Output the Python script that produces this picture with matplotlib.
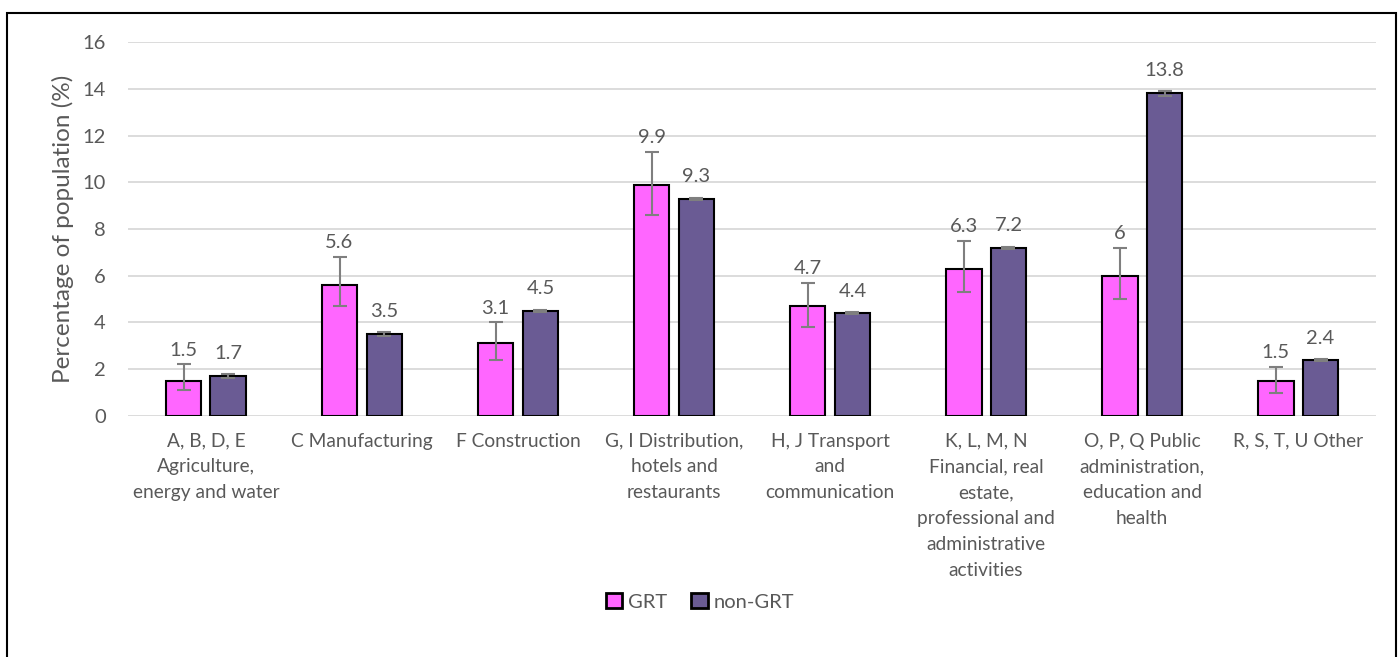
import matplotlib
matplotlib.use("Agg")
import matplotlib.pyplot as plt
import numpy as np
from matplotlib.patches import Rectangle

plt.rcParams["font.family"] = ["Lato", "DejaVu Sans"]

categorias = [
    "A, B, D, E\nAgriculture,\nenergy and water",
    "C Manufacturing",
    "F Construction",
    "G, I Distribution,\nhotels and\nrestaurants",
    "H, J Transport\nand\ncommunication",
    "K, L, M, N\nFinancial, real\nestate,\nprofessional and\nadministrative\nactivities",
    "O, P, Q Public\nadministration,\neducation and\nhealth",
    "R, S, T, U Other",
]
grt = [1.5, 5.6, 3.1, 9.9, 4.7, 6.3, 6.0, 1.5]
grt_erro_cima = [0.7, 1.2, 0.9, 1.4, 1.0, 1.2, 1.2, 0.6]
grt_erro_baixo = [0.4, 0.9, 0.7, 1.3, 0.9, 1.0, 1.0, 0.5]
nao_grt = [1.7, 3.5, 4.5, 9.3, 4.4, 7.2, 13.8, 2.4]
nao_grt_erro = [0.08, 0.07, 0.04, 0.04, 0.04, 0.04, 0.1, 0.03]
rotulos_grt = ["1.5", "5.6", "3.1", "9.9", "4.7", "6.3", "6", "1.5"]
rotulos_nao_grt = ["1.7", "3.5", "4.5", "9.3", "4.4", "7.2", "13.8", "2.4"]

COR_GRT = "#FF66FF"
COR_NAO_GRT = "#6A5B94"
COR_TEXTO = "#595959"
COR_GRADE = "#D9D9D9"
COR_ERRO = "#7F7F7F"

fig = plt.figure(figsize=(14, 6.57), dpi=100)
ax = fig.add_axes([0.0914, 0.367, 0.8915, 0.569])

x = np.arange(len(categorias))
largura = 0.23
desloc = 0.144

ax.bar(x - desloc, grt, largura, color=COR_GRT, edgecolor="black",
       linewidth=1.5, label="GRT", zorder=3)
ax.bar(x + desloc, nao_grt, largura, color=COR_NAO_GRT, edgecolor="black",
       linewidth=1.5, label="non-GRT", zorder=3)

ax.errorbar(x - desloc, grt, yerr=[grt_erro_baixo, grt_erro_cima], fmt="none",
            ecolor=COR_ERRO, elinewidth=1.5, capsize=5, capthick=1.5, zorder=4)
ax.errorbar(x + desloc, nao_grt, yerr=nao_grt_erro, fmt="none",
            ecolor=COR_ERRO, elinewidth=1.5, capsize=5, capthick=1.5, zorder=4)

for xi, v, e, r in zip(x, grt, grt_erro_cima, rotulos_grt):
    ax.annotate(r, (xi - desloc, v + e), xytext=(0, 4), textcoords="offset points",
                ha="center", va="bottom", fontsize=14.5, color=COR_TEXTO)
for xi, v, e, r in zip(x, nao_grt, nao_grt_erro, rotulos_nao_grt):
    ax.annotate(r, (xi + desloc, v + e), xytext=(0, 9), textcoords="offset points",
                ha="center", va="bottom", fontsize=14.5, color=COR_TEXTO)

ax.set_xlim(-0.5, len(categorias) - 0.5)
ax.set_ylim(0, 16)
ax.set_yticks(range(0, 17, 2))
ax.yaxis.grid(True, color=COR_GRADE, linewidth=1.3, zorder=0)
ax.set_axisbelow(True)
for lado in ["top", "right", "left", "bottom"]:
    ax.spines[lado].set_visible(False)
ax.tick_params(axis="both", length=0, colors=COR_TEXTO)
ax.tick_params(axis="y", pad=16, labelsize=14.5)
ax.tick_params(axis="x", pad=12)
ax.set_xticks(x)
ax.set_xticklabels(categorias, fontsize=13.8, linespacing=1.63, va="top")
ax.set_ylabel("Percentage of population (%)", fontsize=17.5, color=COR_TEXTO, labelpad=6)

leg = fig.legend(loc="center", bbox_to_anchor=(0.5, 0.084), ncol=2, frameon=False,
                 fontsize=14.5, labelcolor=COR_TEXTO, handlelength=0.8, handleheight=0.8,
                 handletextpad=0.3, columnspacing=1.2)
for h in leg.legend_handles:
    h.set_linewidth(2)

# moldura externa
fig.patches.append(Rectangle((0.005, -0.01), 0.992, 0.99, transform=fig.transFigure,
                             fill=False, edgecolor="black", linewidth=1.5))

fig.savefig("out.png", dpi=100, facecolor="white")
